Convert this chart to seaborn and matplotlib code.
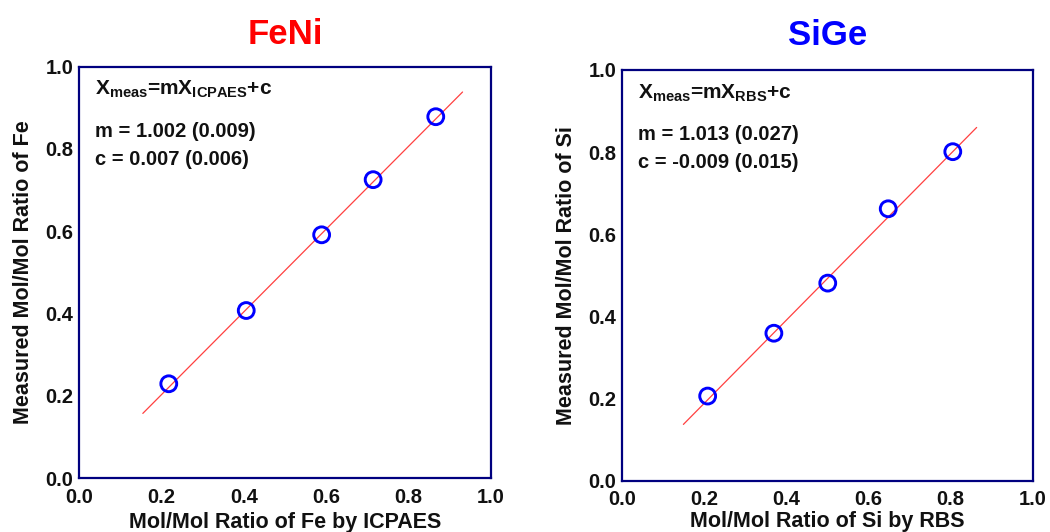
import numpy as np
import pandas as pd
import matplotlib
matplotlib.use('Agg')
import matplotlib.pyplot as plt
import seaborn as sns

# data
feni_icpaes = [0.218, 0.406, 0.589, 0.714, 0.866]
feni_meas = [0.229, 0.407, 0.591, 0.725, 0.878]
feni_fit_x = [0.155, 0.931]
feni_fit_y = [0.157, 0.938]

sige_rbs = [0.209, 0.370, 0.501, 0.648, 0.805]
sige_meas = [0.206, 0.359, 0.481, 0.662, 0.801]
sige_fit_x = [0.150, 0.863]
sige_fit_y = [0.137, 0.860]

panel_titles = ['FeNi', 'SiGe']
title_colors = ['red', 'blue']
x_labels = ['Mol/Mol Ratio of Fe by ICPAES', 'Mol/Mol Ratio of Si by RBS']
y_labels = ['Measured Mol/Mol Ratio of Fe', 'Measured Mol/Mol Ratio of Si']
formulas = [r'X$_{\mathrm{meas}}$=mX$_{\mathrm{ICPAES}}$+c',
            r'X$_{\mathrm{meas}}$=mX$_{\mathrm{RBS}}$+c']
slope_txt = ['m = 1.002 (0.009)', 'm = 1.013 (0.027)']
icpt_txt = ['c = 0.007 (0.006)', 'c = -0.009 (0.015)']

df_pts = [pd.DataFrame({'x': feni_icpaes, 'y': feni_meas}),
          pd.DataFrame({'x': sige_rbs, 'y': sige_meas})]
df_fit = [pd.DataFrame({'x': feni_fit_x, 'y': feni_fit_y}),
          pd.DataFrame({'x': sige_fit_x, 'y': sige_fit_y})]

sns.set_style('white')
plt.rcParams['font.family'] = ['Liberation Sans', 'DejaVu Sans']
plt.rcParams['font.weight'] = 'bold'
plt.rcParams['mathtext.fontset'] = 'custom'
plt.rcParams['mathtext.rm'] = 'Liberation Sans'
plt.rcParams['mathtext.bf'] = 'Liberation Sans:bold'

navy = '#00007f'
fig = plt.figure(figsize=(10.5, 5.32), dpi=100)
axes = [fig.add_axes([0.0752, 0.1015, 0.3924, 0.7735]),
        fig.add_axes([0.5921, 0.0965, 0.3917, 0.772])]

for i, ax in enumerate(axes):
    sns.lineplot(data=df_fit[i], x='x', y='y', color='#ff4040', linewidth=0.9, ax=ax)
    sns.scatterplot(data=df_pts[i], x='x', y='y', marker='o', s=130,
                    facecolor='none', edgecolor='blue', linewidth=2.1, ax=ax, zorder=3)
    ax.set_xlim(0, 1)
    ax.set_ylim(0, 1)
    ax.set_xticks(np.arange(0, 1.01, 0.2))
    ax.set_yticks(np.arange(0, 1.01, 0.2))
    ax.set_xticks(np.arange(0.1, 1.0, 0.2), minor=True)
    ax.set_yticks(np.arange(0.1, 1.0, 0.2), minor=True)
    ax.set_xticklabels(['%.1f' % v for v in np.arange(0, 1.01, 0.2)])
    ax.set_yticklabels(['%.1f' % v for v in np.arange(0, 1.01, 0.2)])
    for sp in ax.spines.values():
        sp.set_color(navy)
        sp.set_linewidth(1.6)
    ax.tick_params(axis='both', which='major', direction='in', length=6, width=1.6,
                   color=navy, labelsize=14.5, labelcolor='#111111')
    ax.tick_params(axis='x', which='major', pad=7)
    ax.tick_params(axis='y', which='major', pad=4)
    ax.tick_params(axis='both', which='minor', direction='in', length=3, width=1.6, color=navy)
    for lab in ax.get_xticklabels() + ax.get_yticklabels():
        lab.set_fontweight('bold')
    ax.set_xlabel(x_labels[i], fontsize=15.5, fontweight='bold', color='#111111',
                  labelpad=4 if i == 0 else 1)
    ax.set_ylabel(y_labels[i], fontsize=15.5, fontweight='bold', color='#111111', labelpad=8)
    ax.set_title(panel_titles[i], fontsize=25, fontweight='bold', color=title_colors[i],
                 pad=16 if i == 0 else 18)
    ax.text(0.039, 0.931, formulas[i], transform=ax.transAxes, fontsize=15,
            fontweight='bold', color='#111111')
    ax.text(0.039, 0.829, slope_txt[i], transform=ax.transAxes, fontsize=14.5,
            fontweight='bold', color='#111111')
    ax.text(0.039, 0.761, icpt_txt[i], transform=ax.transAxes, fontsize=14.5,
            fontweight='bold', color='#111111')

plt.savefig('out.png', dpi=100)
